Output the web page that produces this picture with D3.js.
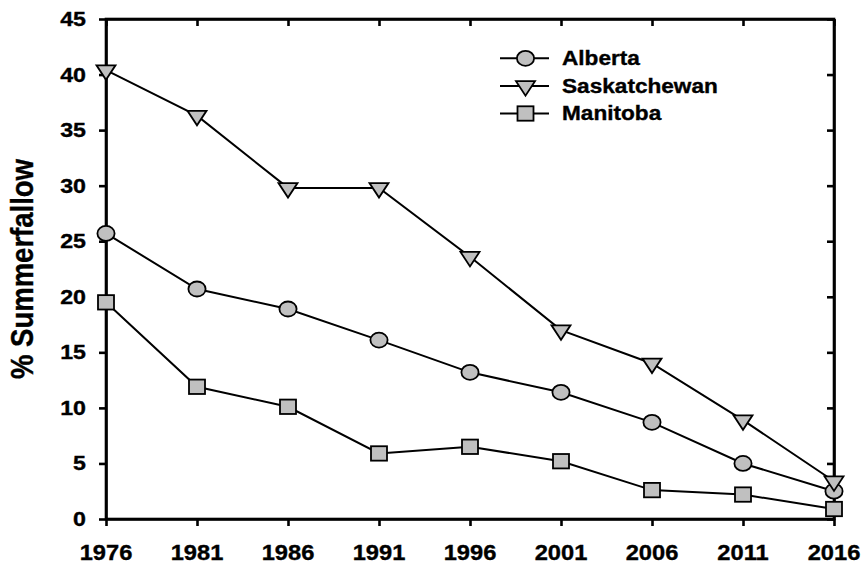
<!DOCTYPE html>
<html>
<head>
<meta charset="utf-8">
<script src="https://cdn.jsdelivr.net/npm/d3@7"></script>
<style>
  html, body { margin: 0; padding: 0; background: #fff; }
  svg { display: block; }
  text { font-family: "Liberation Sans", Arial, sans-serif; font-weight: bold; fill: #000; stroke: #000; stroke-width: 0.35; }
</style>
</head>
<body>
<svg id="chart" width="862" height="564"></svg>
<script>
// Census years and share of cropland in summerfallow (%) by province
const years = [1976, 1981, 1986, 1991, 1996, 2001, 2006, 2011, 2016];
const alberta = [25.7, 20.7, 18.9, 16.1, 13.2, 11.4, 8.7, 5.0, 2.5];
const saskatchewan = [40.4, 36.3, 29.8, 29.8, 23.6, 17.0, 14.0, 8.9, 3.4];
const manitoba = [19.5, 11.9, 10.1, 5.9, 6.5, 5.2, 2.6, 2.2, 0.9];
const yTicks = [0, 5, 10, 15, 20, 25, 30, 35, 40, 45];
const seriesNames = ["Alberta", "Saskatchewan", "Manitoba"];
const yTitle = "% Summerfallow";

const series = [
  { name: seriesNames[0], values: alberta, shape: "circle" },
  { name: seriesNames[1], values: saskatchewan, shape: "triangle" },
  { name: seriesNames[2], values: manitoba, shape: "square" }
];

const svg = d3.select("#chart");
const plotL = 106, plotR = 834, plotT = 19, plotB = 519;
const SX = 1.16; // horizontal stretch of the text glyphs

const x = d3.scaleLinear().domain([1976, 2016]).range([plotL, plotR]);
const y = d3.scaleLinear().domain([0, 45]).range([plotB, plotT]);

const fill = "#c0c0c0";

function drawMarker(g, shape, cx, cy) {
  if (shape === "circle") {
    g.append("ellipse").attr("cx", cx).attr("cy", cy).attr("rx", 8.6).attr("ry", 7.5)
      .attr("fill", fill).attr("stroke", "#000").attr("stroke-width", 1.8);
  } else if (shape === "square") {
    g.append("rect").attr("x", cx - 8).attr("y", cy - 7.2).attr("width", 16).attr("height", 14.4)
      .attr("fill", fill).attr("stroke", "#000").attr("stroke-width", 1.8);
  } else {
    const W = 19, H = 14.5;
    const pts = [[cx - W / 2, cy - H / 3], [cx + W / 2, cy - H / 3], [cx, cy + 2 * H / 3]];
    g.append("path").attr("d", "M" + pts.map(p => p.join(",")).join("L") + "Z")
      .attr("fill", fill).attr("stroke", "#000").attr("stroke-width", 1.8)
      .attr("stroke-linejoin", "miter");
  }
}

// Frame: left and bottom axes carry labels, top and right carry inward ticks
const axisW = 2.6;
const axL = svg.append("g").attr("transform", `translate(${plotL},0)`)
  .call(d3.axisLeft(y).tickValues(yTicks).tickSize(7).tickSizeOuter(0).tickFormat(""));
const axB = svg.append("g").attr("transform", `translate(0,${plotB})`)
  .call(d3.axisBottom(x).tickValues(years).tickSize(7).tickSizeOuter(0).tickFormat(""));
const axT = svg.append("g").attr("transform", `translate(0,${plotT})`)
  .call(d3.axisTop(x).tickValues(years).tickSize(-7).tickSizeOuter(0).tickFormat(""));
const axR = svg.append("g").attr("transform", `translate(${plotR},0)`)
  .call(d3.axisRight(y).tickValues(yTicks).tickSize(-7).tickSizeOuter(0).tickFormat(""));
[axL, axB, axT, axR].forEach(a => {
  a.selectAll(".domain").attr("stroke", "#000").attr("stroke-width", axisW);
  a.selectAll(".tick line").attr("stroke", "#000").attr("stroke-width", axisW);
});
// close the frame corners
svg.append("rect").attr("x", plotL).attr("y", plotT).attr("width", plotR - plotL).attr("height", plotB - plotT)
  .attr("fill", "none").attr("stroke", "#000").attr("stroke-width", axisW);

// Tick labels
svg.append("g").selectAll("text").data(yTicks).join("text")
  .attr("transform", d => `translate(86,${y(d) + 7}) scale(${SX},1)`)
  .attr("text-anchor", "end").attr("font-size", 20).text(d => d);
svg.append("g").selectAll("text").data(years).join("text")
  .attr("transform", d => `translate(${x(d)},${559.5}) scale(${SX * 0.95},1)`)
  .attr("text-anchor", "middle").attr("font-size", 21.5).text(d => d);

// Axis title
svg.append("text")
  .attr("transform", `translate(33,269) scale(${SX},1) rotate(-90)`)
  .attr("text-anchor", "middle").attr("font-size", 27.5).text(yTitle);

// Series lines and markers
const line = d3.line().x((d, i) => x(years[i])).y(d => y(d));
series.forEach(s => {
  const g = svg.append("g");
  g.append("path").attr("d", line(s.values)).attr("fill", "none")
    .attr("stroke", "#000").attr("stroke-width", 2);
  s.values.forEach((v, i) => drawMarker(g, s.shape, x(years[i]), y(v)));
});

// Legend
const legX0 = 500, legX1 = 549, legMid = 525.5, legText = 562;
const legRows = [58.3, 86, 113.5];
series.forEach((s, i) => {
  const g = svg.append("g");
  const ry = legRows[i];
  g.append("line").attr("x1", legX0).attr("x2", legX1).attr("y1", ry).attr("y2", ry)
    .attr("stroke", "#000").attr("stroke-width", 2);
  drawMarker(g, s.shape, legMid, ry);
  g.append("text").attr("transform", `translate(${legText},${ry + 6.5}) scale(${SX},1)`)
    .attr("font-size", 19.5).text(s.name);
});
</script>
</body>
</html>
